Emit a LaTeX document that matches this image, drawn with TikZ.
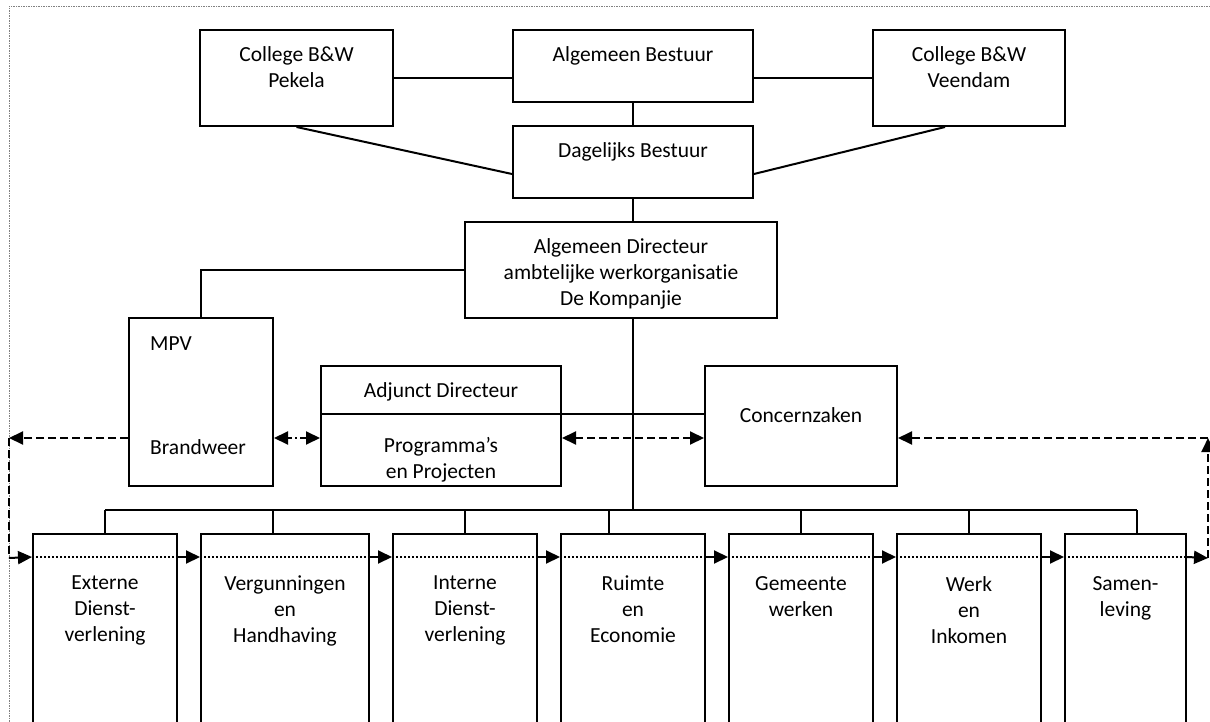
\documentclass[tikz,border=0pt]{standalone}
\usepackage{fontspec}
\setmainfont{Carlito}[Ligatures={TeX,NoCommon}]
\usetikzlibrary{positioning,arrows.meta}

\tikzset{
  box/.style={draw, line width=2pt, inner sep=0pt},
  lbl/.style={align=center, inner sep=2pt, font=\fontsize{21.5}{26}\selectfont},
  link/.style={line width=2pt},
  dsh/.style={line width=2pt, dash pattern=on 8pt off 4pt},
  dshdot/.style={line width=2pt, dash pattern=on 7pt off 3pt on 2pt off 3pt},
  arr/.style={-{Triangle[length=14pt,width=13pt]}},
  arrs/.style={{Triangle[length=14pt,width=13pt]}-{Triangle[length=14pt,width=13pt]}},
}

\begin{document}
\begin{tikzpicture}[x=1pt,y=-1pt]
\clip (0,0) rectangle (1210,722);
\draw[gray, line width=0.8pt, dash pattern=on 1.5pt off 1pt] (1210,6) -- (9,6) -- (9,722);

% bestuur
\node[box, minimum width=193pt, minimum height=96pt] (pek) at (296.5,78) {};
\node[box, minimum width=240pt, minimum height=72pt] (ab) at (633,66) {};
\node[box, minimum width=192pt, minimum height=96pt] (veen) at (969,78) {};
\node[box, minimum width=240pt, minimum height=72pt] (db) at (633,162) {};
\node[lbl, below=15pt of pek.north] (pek-t) {College B\&W\\Pekela};
\node[lbl, below=15pt of ab.north] (ab-t) {Algemeen Bestuur};
\node[lbl, below=15pt of veen.north] (veen-t) {College B\&W\\Veendam};
\node[lbl, below=15pt of db.north] (db-t) {Dagelijks Bestuur};

\draw[link] (pek.east) -- (pek.east -| ab.west);
\draw[link] (ab.east |- veen.west) -- (veen.west);
\draw[link] (ab) -- (db);
\draw[link] (pek.south) -- ([yshift=-12pt]db.west);
\draw[link] ([xshift=-24pt]veen.south) -- ([yshift=-12pt]db.east);

% directie
\node[box, minimum width=312pt, minimum height=96pt] (ad) at (621,270) {};
\node[lbl, below=15pt of ad.north] (ad-t) {Algemeen Directeur\\ambtelijke werkorganisatie\\De Kompanjie};
\node[box, minimum width=144pt, minimum height=168pt] (mpv) at (201,402) {};
\node[lbl, anchor=base west, inner sep=0pt] (mpv-t) at (150,350) {MPV};
\node[lbl, anchor=base west, inner sep=0pt] (mpv-b) at (150,454) {Brandweer};
\node[box, minimum width=240pt, minimum height=120pt] (adj) at (441,426) {};
\coordinate (adjdiv) at (441,414);
\node[lbl, below=15pt of adj.north] (adj-t) {Adjunct Directeur};
\node[lbl, below=21pt of adjdiv] (adj-b) {Programma’s\\en Projecten};
\node[box, minimum width=192pt, minimum height=120pt] (con) at (801,426) {};
\node[lbl, below=40pt of con.north] (con-t) {Concernzaken};

\coordinate (barL) at (105,510);
\coordinate (barR) at (1137,510);
\draw[link] (db) -- (db.south |- ad.north);
\draw[link] (db.south |- ad.south) -- (db.south |- barL);
\draw[link] (ad.west) -| (mpv.north);
\draw[link] (adj.west |- adjdiv) -- (con.west |- adjdiv);
\draw[link] (barL) -- (barR);

% afdelingen
\foreach \n/\x/\w/\d/\t in {
  ext/105/144/105/{Externe\\Dienst-\\verlening},
  verg/285/168/273/{Vergunningen\\en\\Handhaving},
  int/465/144/465/{Interne\\Dienst-\\verlening},
  ruim/633/144/609/{Ruimte\\en\\Economie},
  gem/801/144/801/{Gemeente\\werken},
  werk/969/144/969/{Werk\\en\\Inkomen},
  sam/1125.5/121/1137/{Samen-\\leving}}
{
  \node[box, minimum width=\w pt, minimum height=240pt] (\n) at (\x,654) {};
  \node[lbl, below=41pt of \n.north] (\n-t) {\t};
  \draw[link] (\n.north -| \d,0) -- (\d,510);
}

\draw[line width=1.5pt, dash pattern=on 2pt off 2pt] ([yshift=-24pt]ext.north west) -- ([yshift=-24pt]sam.north east);
\foreach \a/\b in {ext/verg, verg/int, int/ruim, ruim/gem, gem/werk, werk/sam}
  \draw[link, arr] ([yshift=-24pt]\a.north east) -- ([yshift=-24pt]\b.north west);

% stippellijnen
\coordinate (lc) at (9,438);
\coordinate (lb) at (9,558);
\coordinate (rc) at (1208,438);
\coordinate (rb) at (1208,558);
\draw[dsh, arrs] (lc -| con.west) -- (lc -| adj.east);
\draw[dshdot, arrs] (lc -| adj.west) -- (lc -| mpv.east);
\draw[dsh, arr] (lc -| mpv.west) -- (lc);
\draw[dsh] (lc) -- (lb);
\draw[link, arr] (lb) -- ([yshift=-24pt]ext.north west);
\draw[link, arr] ([yshift=-24pt]sam.north east) -- (rb);
\draw[dsh, arr] (rb) -- (rc);
\draw[dsh, arr] (rc) -- (rc -| con.east);
\end{tikzpicture}
\end{document}
